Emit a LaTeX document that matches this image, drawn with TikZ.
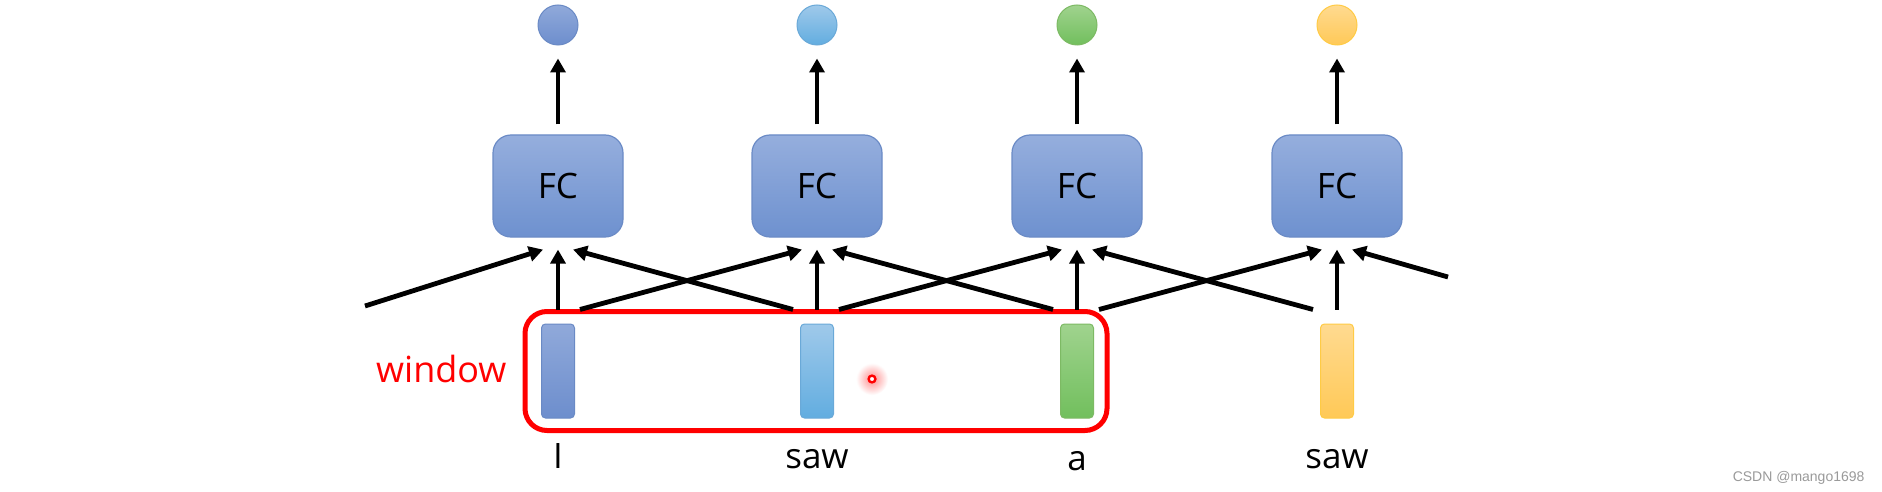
\documentclass[tikz,border=0pt]{standalone}
\usepackage{fontspec}
\setmainfont{Open Sans}
\newfontfamily\wmfont{Liberation Sans}
\usetikzlibrary{arrows.meta}
\definecolor{fctop}{HTML}{95AEDD}
\definecolor{fcbot}{HTML}{6E91CF}
\definecolor{fcborder}{HTML}{6B8BC6}
\definecolor{aTop}{HTML}{90A9DA}
\definecolor{aBot}{HTML}{6D8ECD}
\definecolor{aBor}{HTML}{6A8AC5}
\definecolor{bTop}{HTML}{9FC9EA}
\definecolor{bBot}{HTML}{62ADE0}
\definecolor{bBor}{HTML}{6AA9D8}
\definecolor{cTop}{HTML}{A0D38E}
\definecolor{cBot}{HTML}{71BF5D}
\definecolor{cBor}{HTML}{7DBA64}
\definecolor{dTop}{HTML}{FFDA90}
\definecolor{dBot}{HTML}{FFC957}
\definecolor{dBor}{HTML}{FFCB45}
\definecolor{wmgray}{HTML}{9A9A9A}
\begin{document}
\begin{tikzpicture}[x=1pt,y=-1pt,
  fcbox/.style={draw=fcborder, line width=1.2pt, rounded corners=18pt,
    minimum width=130pt, minimum height=102pt, inner sep=0pt,
    top color=fctop, bottom color=fcbot, font=\fontsize{35}{40}\selectfont},
  outc/.style={circle, minimum size=40pt, inner sep=0pt, line width=1pt},
  vecbar/.style={rounded corners=4pt, minimum width=33pt, minimum height=94pt,
    inner sep=0pt, line width=1pt},
  cA/.style={draw=#1Bor, top color=#1Top, bottom color=#1Bot},
  arr/.style={line width=4.8pt, -{Triangle[length=14pt,width=15pt]}},
  word/.style={font=\fontsize{35}{40}\selectfont, anchor=base},
  winbox/.style={draw=red, line width=5pt, rounded corners=22pt,
    minimum width=582pt, minimum height=119pt, inner sep=0pt}
]
\fill[white] (0,0) rectangle (1882,492);
\useasboundingbox (0,0) rectangle (1882,492);

% output circles
\node[outc, cA=a] (o1) at (558,25) {};
\node[outc, cA=b] (o2) at (817,25) {};
\node[outc, cA=c] (o3) at (1077,25) {};
\node[outc, cA=d] (o4) at (1337,25) {};

% FC boxes
\node[fcbox] (f1) at (558,186) {FC};
\node[fcbox] (f2) at (817,186) {FC};
\node[fcbox] (f3) at (1077,186) {FC};
\node[fcbox] (f4) at (1337,186) {FC};

% input bars
\node[vecbar, cA=a] (b1) at (558,371) {};
\node[vecbar, cA=b] (b2) at (817,371) {};
\node[vecbar, cA=c] (b3) at (1077,371) {};
\node[vecbar, cA=d] (b4) at (1337,371) {};

% words
\node[word] (w1) at (558,468) {I};
\node[word] (w2) at (817,468) {saw};
\node[word] (w3) at (1077,470) {a};
\node[word] (w4) at (1337,468) {saw};

% window
\node[winbox] (win) at (816,371) {};
\node[font=\fontsize{36}{40}\selectfont, text=red, anchor=base east] (wl) at (510,382) {window};

% FC -> output arrows
\foreach \i in {1,2,3,4}{
  \draw[arr] ([yshift=10pt]f\i.north) -- ([yshift=-13pt]o\i.south);
}

% bar -> FC vertical arrows
\foreach \i in {1,2,3,4}{
  \draw[arr] ([yshift=14pt]b\i.north) -- ([yshift=-12pt]f\i.south);
}

% diagonal arrows
\foreach \i/\j in {2/1,3/2,4/3}{
  \draw[arr] ([xshift=-24pt,yshift=14pt]b\i.north) -- ([xshift=15pt,yshift=-12pt]f\j.south);
}
\foreach \i/\j in {1/2,2/3,3/4}{
  \draw[arr] ([xshift=22pt,yshift=14pt]b\i.north) -- ([xshift=-15pt,yshift=-12pt]f\j.south);
}

% cut-off arrows at the edges
\coordinate (lin) at (365,306);
\coordinate (rin) at (1448,277);
\draw[arr] (lin) -- ([xshift=-15pt,yshift=-12pt]f1.south);
\draw[arr] (rin) -- ([xshift=15pt,yshift=-12pt]f4.south);

% laser pointer dot
\shade[inner color=red!45, outer color=white] (872,379) circle (16);
\draw[red, line width=2.4pt, fill=white] (872,379) circle (3.4);

% watermark
\node[font=\wmfont\fontsize{14}{16}\selectfont, text=wmgray, anchor=base east] (wm) at (1868,481) {CSDN @mango1698};
\end{tikzpicture}
\end{document}
